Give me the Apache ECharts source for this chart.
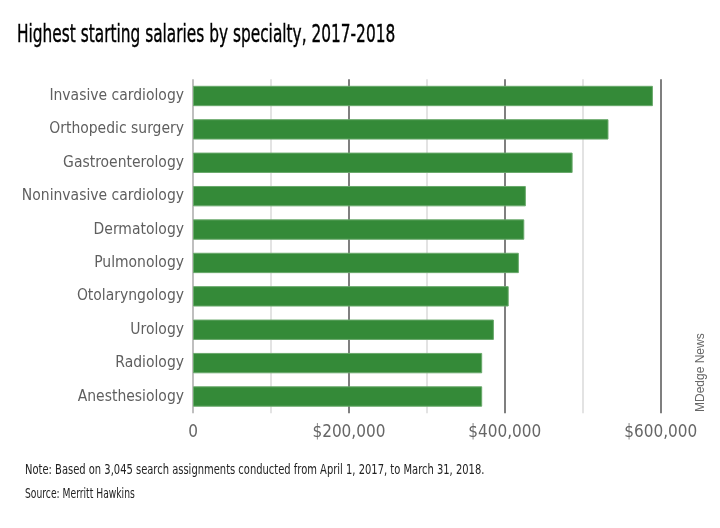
<!DOCTYPE html>
<html><head><meta charset="utf-8">
<script src="https://cdn.jsdelivr.net/npm/echarts@6/dist/echarts.min.js"></script>
<style>html,body{margin:0;padding:0;background:#fff}#c{width:720px;height:528px}</style>
</head><body><div id="c"></div>
<script>
const categories = ["Invasive cardiology","Orthopedic surgery","Gastroenterology","Noninvasive cardiology","Dermatology","Pulmonology","Otolaryngology","Urology","Radiology","Anesthesiology"];
const salaries = [590000, 533000, 487000, 427000, 425000, 418000, 405000, 386000, 371000, 371000];
const tickLabels = {0:"0",200000:"$200,000",400000:"$400,000",600000:"$600,000"};
const titleText = "Highest starting salaries by specialty, 2017-2018";
const noteText = "Note: Based on 3,045 search assignments conducted from April 1, 2017, to March 31, 2018.";
const sourceText = "Source: Merritt Hawkins";
const creditText = "MDedge News";

const NARROW = '"DejaVu Sans Condensed","Liberation Sans Narrow",sans-serif';
const chart = echarts.init(document.getElementById('c'));
chart.setOption({
  animation:false,
  grid:{left:193,right:59.3,top:79.3,height:333.9,containLabel:false},
  xAxis:{type:'value',min:0,max:600000,interval:100000,
    axisLine:{show:false},axisTick:{show:false},
    axisLabel:{margin:11,color:'#666666',fontFamily:NARROW,fontSize:17,
      formatter:v=>tickLabels[v]!==undefined?tickLabels[v]:''},
    splitLine:{show:true,lineStyle:{width:1.5,color:['#aaaaaa','#dadada','#555555','#dadada','#555555','#dadada','#555555']}}},
  yAxis:{type:'category',data:categories,inverse:true,
    axisLine:{show:false},axisTick:{show:false},
    axisLabel:{margin:9,color:'#5f5f5f',fontFamily:NARROW,fontSize:15.5}},
  series:[{type:'bar',data:salaries,barCategoryGap:'39%',
    itemStyle:{color:'#348a38',borderColor:'#69a96b',borderWidth:1}}],
  graphic:[
    {type:'text',x:17,y:22,scaleX:0.67,style:{text:titleText,font:'25.5px '+NARROW,fill:'#000',stroke:'#000',lineWidth:0.4}},
    {type:'text',x:25,y:463,scaleX:0.79,style:{text:noteText,font:'14px '+NARROW,fill:'#222'}},
    {type:'text',x:25,y:487,scaleX:0.73,style:{text:sourceText,font:'14px '+NARROW,fill:'#222'}},
    {type:'text',x:701,y:412,rotation:Math.PI/2,style:{text:creditText,font:'12px "Liberation Sans",Arial,sans-serif',fill:'#666',align:'left',verticalAlign:'middle'}}
  ]
});
</script></body></html>
